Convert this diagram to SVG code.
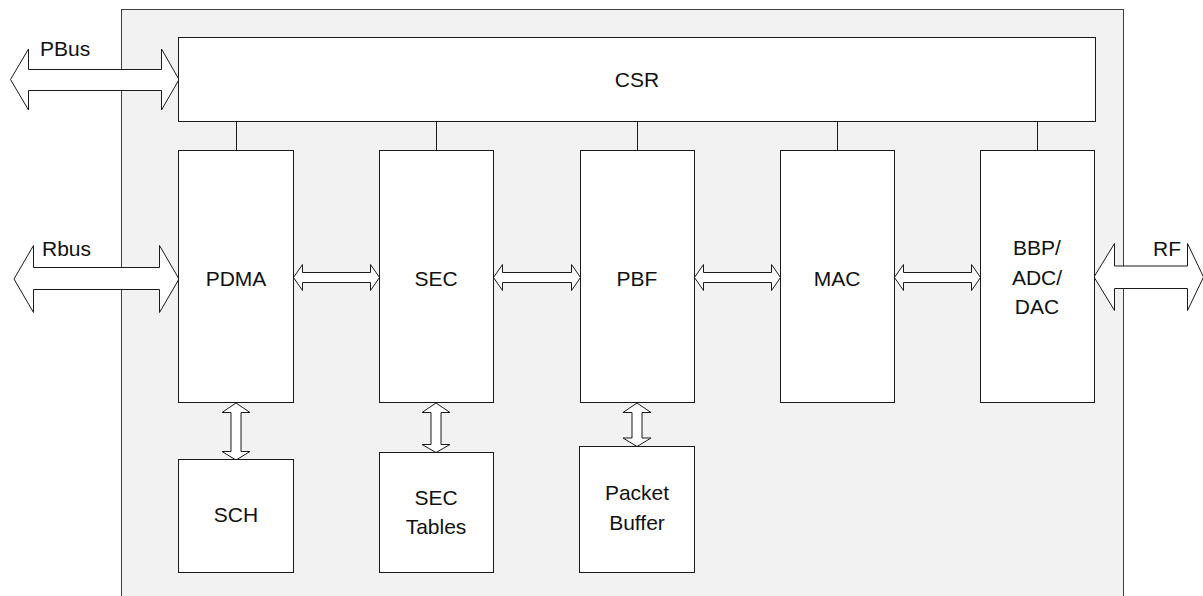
<svg xmlns="http://www.w3.org/2000/svg" width="1203" height="596" viewBox="0 0 1203 596">
<style>
.bg{fill:#ffffff}
.outer{fill:#f2f2f2;stroke:#404040;stroke-width:1}
.box{fill:#ffffff;stroke:#1a1a1a;stroke-width:1}
.arr{fill:#ffffff;stroke:#1a1a1a;stroke-width:1;stroke-linejoin:miter}
.ln{stroke:#1a1a1a;stroke-width:1;fill:none}
text{font-family:"Liberation Sans",Arial,sans-serif;font-size:21px;fill:#111111;text-anchor:middle}
.lbl{text-anchor:start}
</style>
<rect class="bg" x="0" y="0" width="1203" height="596"/>
<g id="chip">
<rect class="outer" x="121.5" y="9.5" width="1002" height="600"/>
</g>
<g id="connectors">
<line class="ln" x1="236.5" y1="122" x2="236.5" y2="150"/>
<line class="ln" x1="436.5" y1="122" x2="436.5" y2="150"/>
<line class="ln" x1="637.5" y1="122" x2="637.5" y2="150"/>
<line class="ln" x1="837.5" y1="122" x2="837.5" y2="150"/>
<line class="ln" x1="1037.5" y1="122" x2="1037.5" y2="150"/>
<path class="arr" d="M10.5 79.5 L28.5 49 L28.5 69.5 L161.5 69.5 L161.5 49 L179 79.5 L161.5 110 L161.5 90.5 L28.5 90.5 L28.5 110 Z"/>
<path class="arr" d="M14 279 L33.5 245.5 L33.5 267.5 L159.5 267.5 L159.5 245.5 L179 279 L159.5 312.5 L159.5 289.5 L33.5 289.5 L33.5 312.5 Z"/>
<path class="arr" d="M1094 277 L1114.5 243.5 L1114.5 266 L1187.5 266 L1187.5 243.5 L1203.5 277 L1187.5 310.5 L1187.5 288.5 L1114.5 288.5 L1114.5 310.5 Z"/>
<path class="arr" d="M293.5 277.5 L302.5 264.5 L302.5 272.5 L370.5 272.5 L370.5 264.5 L379.5 277.5 L370.5 290.5 L370.5 282.5 L302.5 282.5 L302.5 290.5 Z"/>
<path class="arr" d="M493.5 277.5 L502.5 264.5 L502.5 272.5 L571.5 272.5 L571.5 264.5 L580.5 277.5 L571.5 290.5 L571.5 282.5 L502.5 282.5 L502.5 290.5 Z"/>
<path class="arr" d="M694.5 277.5 L703.5 264.5 L703.5 272.5 L771.5 272.5 L771.5 264.5 L780.5 277.5 L771.5 290.5 L771.5 282.5 L703.5 282.5 L703.5 290.5 Z"/>
<path class="arr" d="M894.5 277.5 L903.5 264.5 L903.5 272.5 L971.5 272.5 L971.5 264.5 L980.5 277.5 L971.5 290.5 L971.5 282.5 L903.5 282.5 L903.5 290.5 Z"/>
<path class="arr" d="M236 403 L250 412.5 L241 412.5 L241 451.5 L250 451.5 L236 460 L222 451.5 L231 451.5 L231 412.5 L222 412.5 Z"/>
<path class="arr" d="M436 403 L450 412.5 L441 412.5 L441 444.5 L450 444.5 L436 452.5 L422 444.5 L431 444.5 L431 412.5 L422 412.5 Z"/>
<path class="arr" d="M637 403 L651 412.5 L642 412.5 L642 438 L651 438 L637 446.5 L623 438 L632 438 L632 412.5 L623 412.5 Z"/>
</g>
<g id="CSR">
<rect class="box" x="178.5" y="37.5" width="917" height="84"/>
<text x="637" y="87">CSR</text>
</g>
<g id="PDMA">
<rect class="box" x="178.5" y="150.5" width="115" height="252"/>
<text x="236" y="286">PDMA</text>
</g>
<g id="SEC">
<rect class="box" x="379.5" y="150.5" width="114" height="252"/>
<text x="436" y="286">SEC</text>
</g>
<g id="PBF">
<rect class="box" x="580.5" y="150.5" width="114" height="252"/>
<text x="637" y="286">PBF</text>
</g>
<g id="MAC">
<rect class="box" x="780.5" y="150.5" width="114" height="252"/>
<text x="837" y="286">MAC</text>
</g>
<g id="BBP">
<rect class="box" x="980.5" y="150.5" width="114" height="252"/>
<text x="1037" y="255">BBP/</text>
<text x="1037" y="285">ADC/</text>
<text x="1037" y="314">DAC</text>
</g>
<g id="SCH">
<rect class="box" x="178.5" y="459.5" width="115" height="113"/>
<text x="236" y="522">SCH</text>
</g>
<g id="SECTables">
<rect class="box" x="379.5" y="452.5" width="114" height="120"/>
<text x="436" y="505">SEC</text>
<text x="436" y="534">Tables</text>
</g>
<g id="PacketBuffer">
<rect class="box" x="579.5" y="446.5" width="115" height="126"/>
<text x="637" y="500">Packet</text>
<text x="637" y="530">Buffer</text>
</g>
<g id="labels">
<text class="lbl" x="40" y="56">PBus</text>
<text class="lbl" x="42" y="256">Rbus</text>
<text class="lbl" x="1153" y="256">RF</text>
</g>
</svg>
